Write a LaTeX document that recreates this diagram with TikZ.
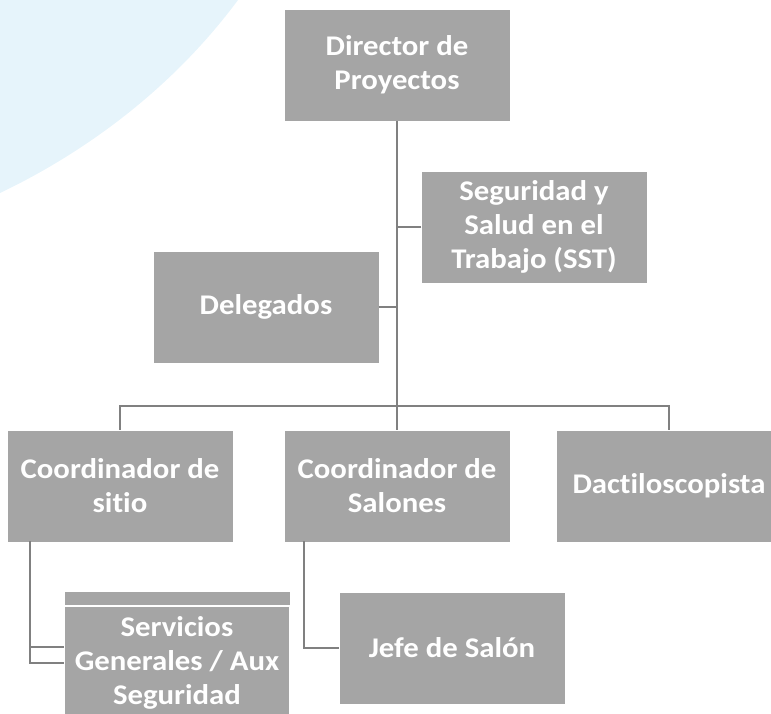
\documentclass[tikz,border=0pt]{standalone}
\usepackage{fontspec}
\setmainfont{Carlito}[FakeStretch=1.08, Ligatures=NoCommon]
\usetikzlibrary{positioning}

\definecolor{boxgray}{HTML}{A5A5A5}
\definecolor{linegray}{HTML}{808080}
\definecolor{skyblue}{HTML}{E6F4FB}

\tikzset{
    orgbox/.style={fill=boxgray, text=white, font=\bfseries\fontsize{28.5}{34}\selectfont,
        minimum width=225pt, minimum height=111pt, inner sep=0pt, align=center},
    orgline/.style={draw=linegray, line width=2pt}
}

\begin{document}
\begin{tikzpicture}[x=1pt, y=-1pt]
        \useasboundingbox (0,0) rectangle (771,713);
        \fill[skyblue] (0,0) -- (238,0) .. controls (175,85) and (90,150) .. (0,193) -- cycle;

        \node[orgbox] (director) at (397,65) {Director de\\Proyectos};
        \node[orgbox] (sst) at (534,227) {Seguridad y\\Salud en el\\Trabajo (SST)};
        \node[orgbox] (delegados) at (266,307) {Delegados};
        \node[orgbox] (sitio) at (120,486) {Coordinador de\\sitio};
        \node[orgbox] (salones) at (397,486) {Coordinador de\\Salones};
        \node[orgbox] (dacti) at (669,486) {Dactiloscopista};
        \node[orgbox] (servA) at (177,647) {};
        \node[orgbox, draw=white, line width=1.5pt, minimum height=114pt] (servB) at (177,663) {Servicios\\Generales / Aux\\Seguridad};
        \node[orgbox] (jefe) at (452,648) {Jefe de Salón};

        \coordinate (bus) at (397,406);
        \coordinate (sitioout) at (30,541);
        \coordinate (salonesout) at (304,541);

        \draw[orgline] (director.south) -- (bus);
        \draw[orgline] (sst.west) -- (sst.west -| director.south);
        \draw[orgline] (delegados.east) -- (delegados.east -| director.south);
        \draw[orgline] (bus) -| (sitio.north);
        \draw[orgline] (bus) -- (salones.north);
        \draw[orgline] (bus) -| (dacti.north);
        \draw[orgline] (sitioout) |- (servA.west);
        \draw[orgline] (sitioout) |- (servB.west);
        \draw[orgline] (salonesout) |- (jefe.west);

    \end{tikzpicture}
\end{document}
